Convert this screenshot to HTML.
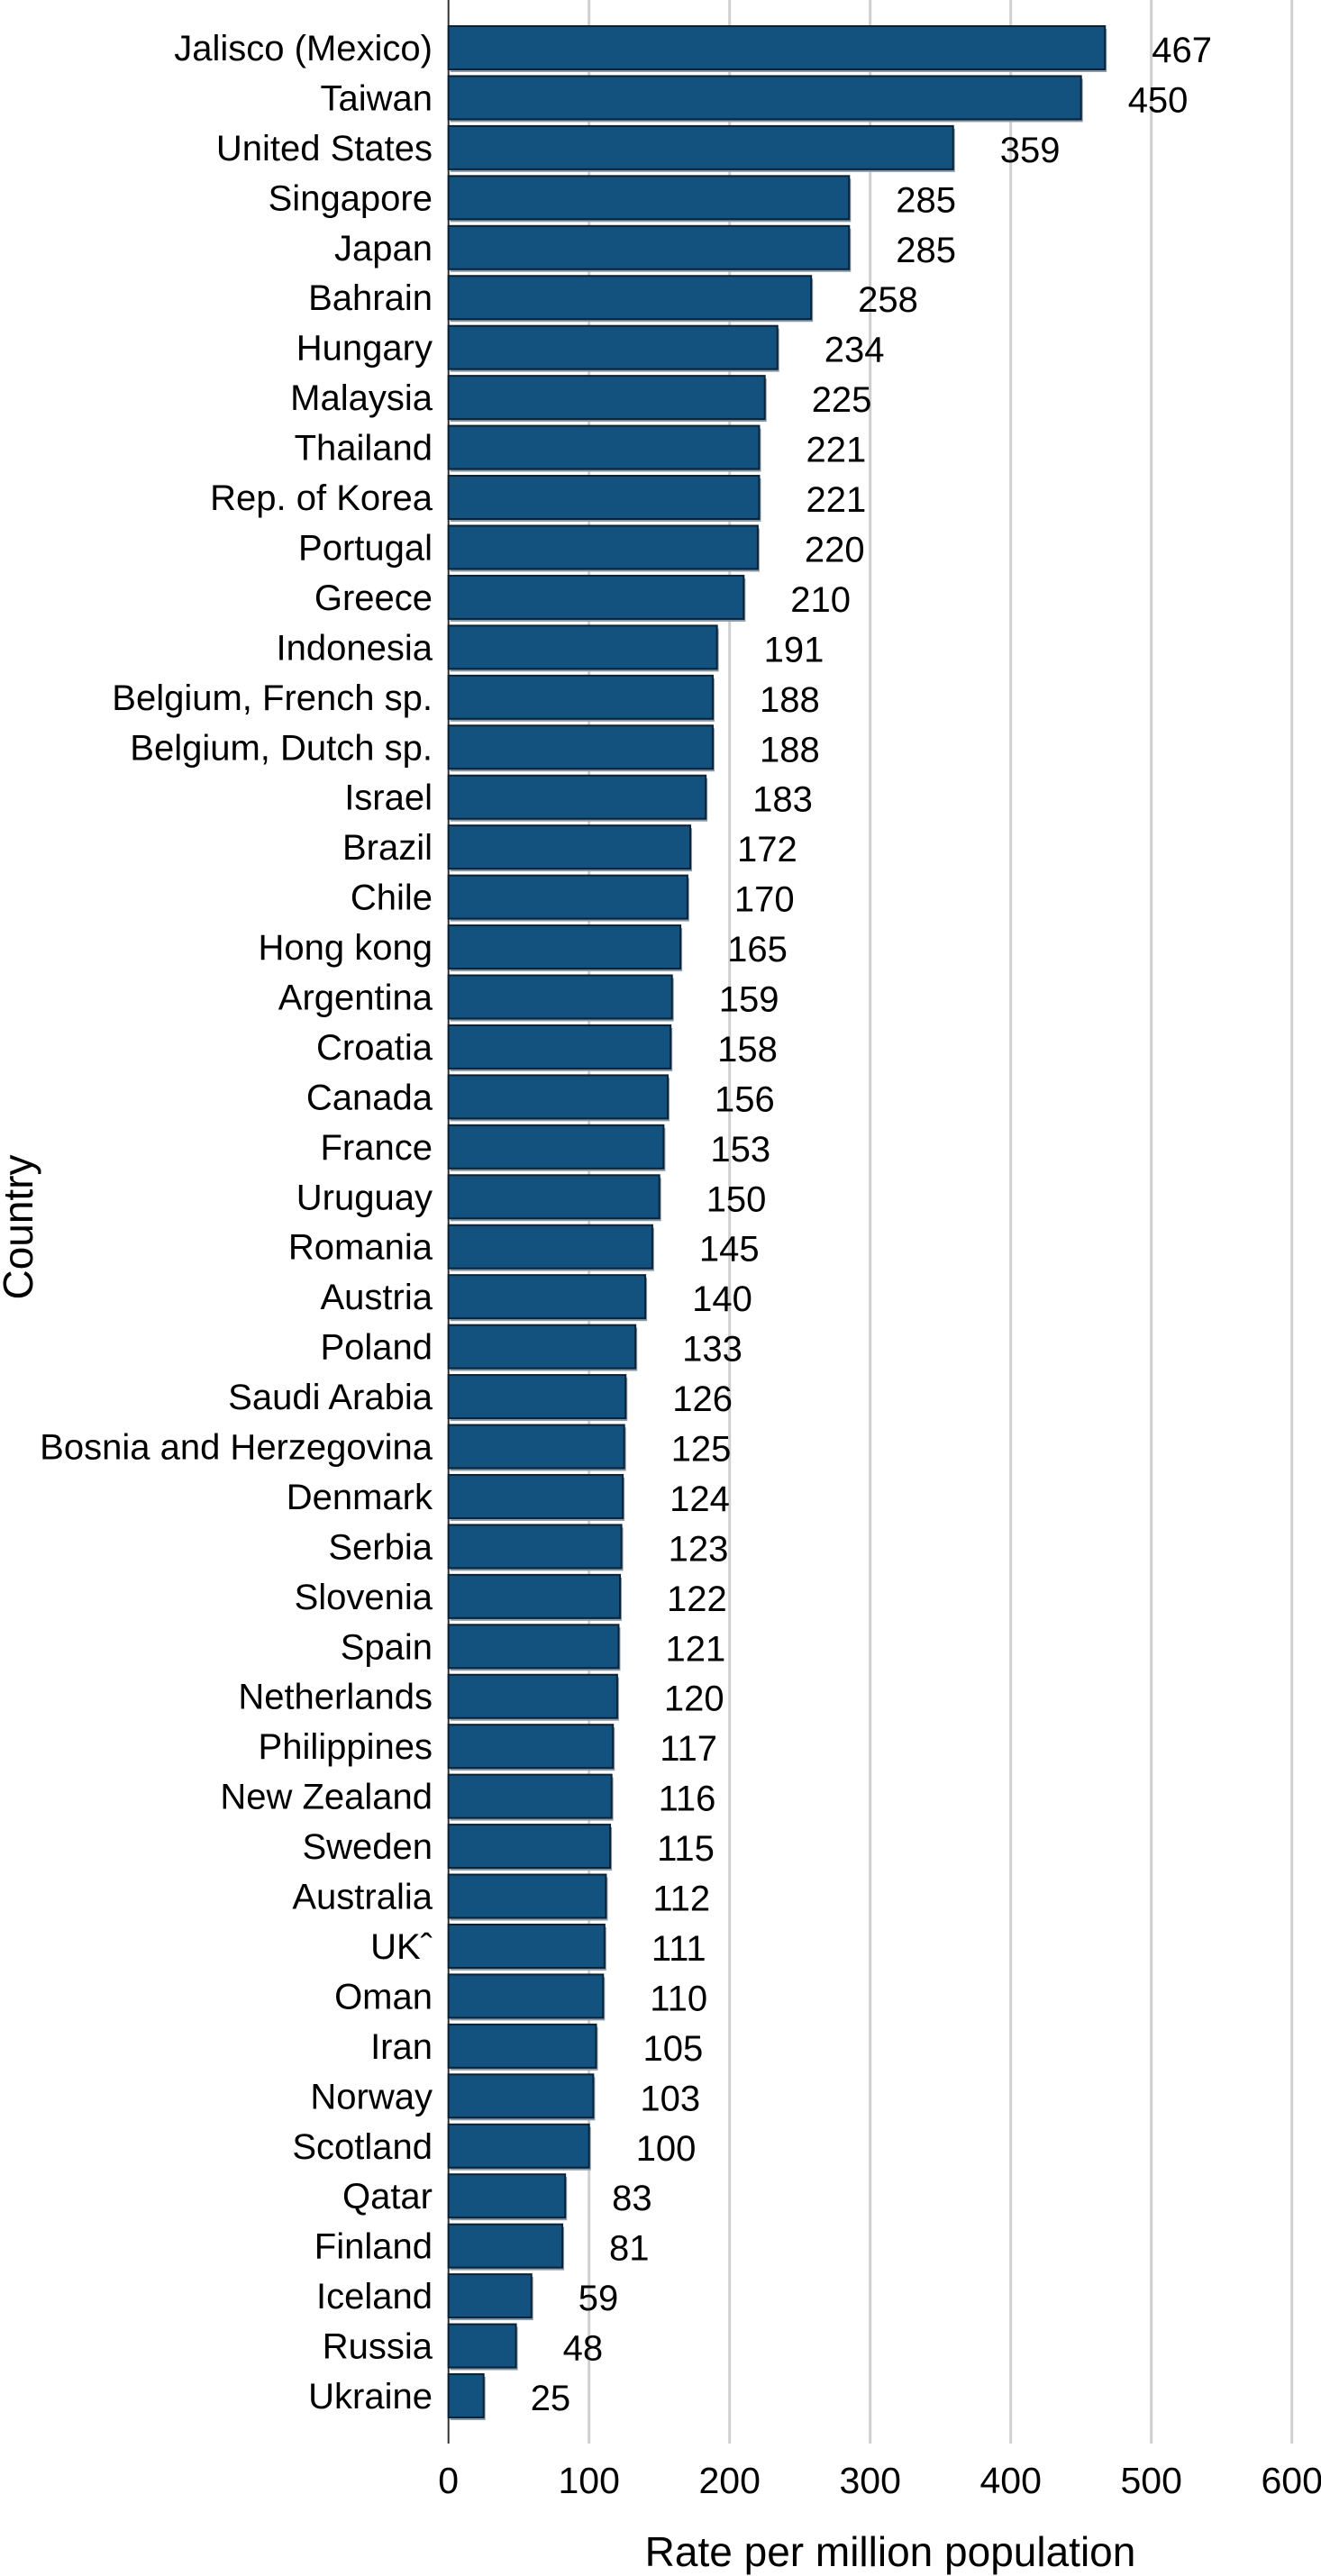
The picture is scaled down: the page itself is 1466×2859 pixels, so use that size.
<!DOCTYPE html>
<html><head><meta charset="utf-8"><style>
html,body{margin:0;padding:0;background:#fff}
svg{display:block;font-family:"Liberation Sans",sans-serif}
</style></head><body>
<svg id="chart" width="1466" height="2859" viewBox="0 0 1466 2859" xmlns="http://www.w3.org/2000/svg">
<g id="grid"></g>
<g id="bars"></g>
<g id="labels"></g>
<g id="values"></g>
<g id="ticks"></g>
<text x="0" y="0" transform="translate(36,1362) rotate(-90)" text-anchor="middle" font-size="46" fill="#000">Country</text>
<text x="988" y="2848" text-anchor="middle" font-size="46" fill="#000">Rate per million population</text>
</svg>
<script>
const categories=["Jalisco (Mexico)","Taiwan","United States","Singapore","Japan","Bahrain","Hungary","Malaysia","Thailand","Rep. of Korea","Portugal","Greece","Indonesia","Belgium, French sp.","Belgium, Dutch sp.","Israel","Brazil","Chile","Hong kong","Argentina","Croatia","Canada","France","Uruguay","Romania","Austria","Poland","Saudi Arabia","Bosnia and Herzegovina","Denmark","Serbia","Slovenia","Spain","Netherlands","Philippines","New Zealand","Sweden","Australia","UKˆ","Oman","Iran","Norway","Scotland","Qatar","Finland","Iceland","Russia","Ukraine"];
const values=[467,450,359,285,285,258,234,225,221,221,220,210,191,188,188,183,172,170,165,159,158,156,153,150,145,140,133,126,125,124,123,122,121,120,117,116,115,112,111,110,105,103,100,83,81,59,48,25];
const tickValues=[0,100,200,300,400,500,600];
const NS="http://www.w3.org/2000/svg";
const X0=497.7, PXU=1.56, TOP=29, PITCH=(2635-29)/(categories.length-1), BH=48, AXB=2712;
function x(v){return X0+v*PXU;}
function y(i){return TOP+i*PITCH;}
function mk(t,a,p){const e=document.createElementNS(NS,t);for(const k in a)e.setAttribute(k,a[k]);p.appendChild(e);return e;}
const grid=document.getElementById('grid'),bars=document.getElementById('bars'),labels=document.getElementById('labels'),vals=document.getElementById('values'),ticks=document.getElementById('ticks');
tickValues.forEach(t=>{
  if(t>0){const l=mk('line',{x1:x(t),x2:x(t),y1:0,y2:AXB,stroke:'#cfcfcf','stroke-width':3},grid);
  
  }
  const tx=mk('text',{x:x(t),y:2767,'text-anchor':'middle','font-size':41,fill:'#000'},ticks);
  tx.textContent=t;
  
  
});
const ax=mk('line',{x1:X0,x2:X0,y1:0,y2:AXB,stroke:'#333','stroke-width':2},grid);


categories.forEach((c,i)=>{
  const v=values[i];
  const sh=mk('rect',{x:X0+2,y:y(i)+3,width:x(v)-X0,height:BH,fill:'#8a9aa8'},bars);
  
  
  const r=mk('rect',{x:X0,y:y(i),width:x(v)-X0,height:BH,fill:'#13527f',stroke:'#0a2236','stroke-width':2},bars);
  
  
  const lb=mk('text',{x:480,y:y(i)+BH/2+14,'text-anchor':'end','font-size':40,fill:'#000'},labels);
  lb.textContent=c;
  
  
  const vt=mk('text',{x:x(v)+52,y:y(i)+BH/2+16,'font-size':40,fill:'#000'},vals);
  vt.textContent=v;
  
  
});
</script>
</body></html>
